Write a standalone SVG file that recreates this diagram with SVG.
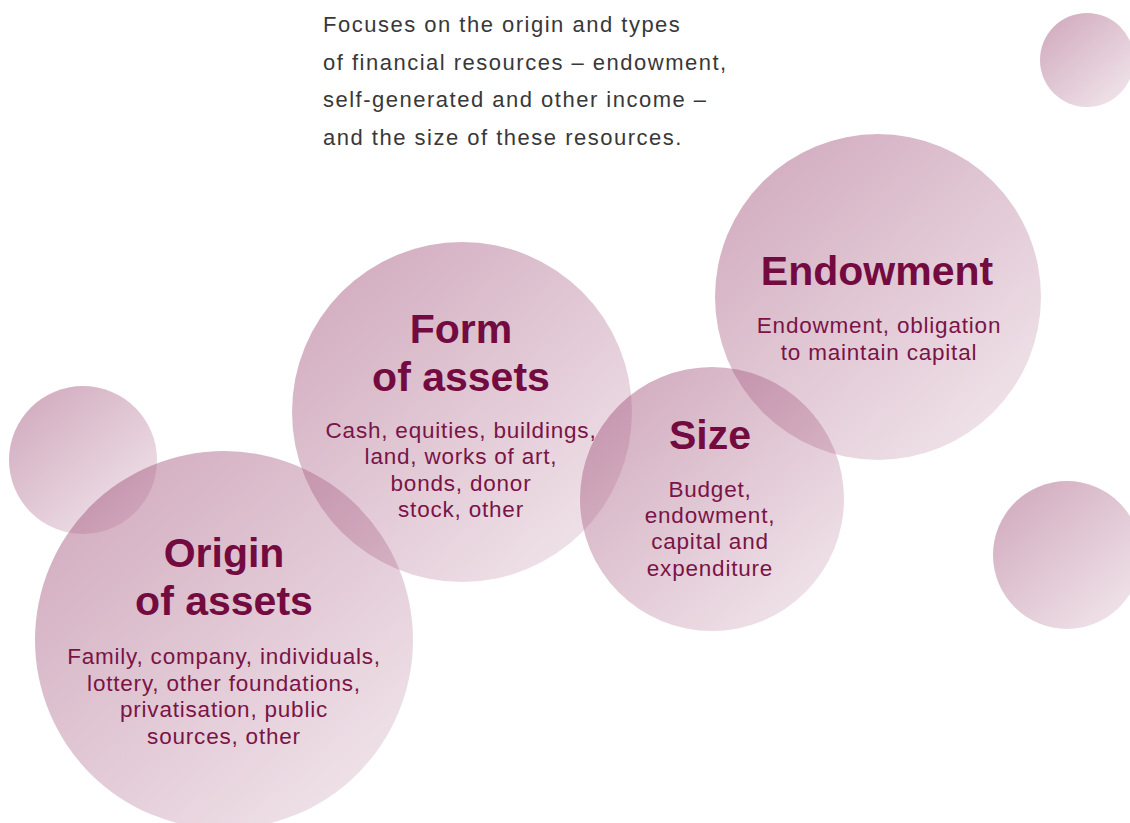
<svg xmlns="http://www.w3.org/2000/svg" width="1130" height="823" viewBox="0 0 1130 823">
<defs>
<linearGradient id="bub" x1="0.15" y1="0.1" x2="0.9" y2="0.95">
<stop offset="0" stop-color="rgb(160,80,120)" stop-opacity="0.46"/>
<stop offset="1" stop-color="rgb(160,80,120)" stop-opacity="0.15"/>
</linearGradient>
<style>
.b{fill:url(#bub)}
.t{font-family:"Liberation Sans",Arial,sans-serif;font-weight:bold;font-size:41px;fill:#730b40;text-anchor:middle}
.d{font-family:"Liberation Sans",Arial,sans-serif;font-size:22.5px;fill:#7a1446;text-anchor:middle;letter-spacing:0.8px}
.i{font-family:"Liberation Sans",Arial,sans-serif;font-size:22px;fill:#383838;letter-spacing:1.5px}
</style>
</defs>
<rect width="1130" height="823" fill="#ffffff"/>
<g id="intro">
<text class="i" x="323" y="32">Focuses on the origin and types</text>
<text class="i" x="323" y="70">of financial resources – endowment,</text>
<text class="i" x="323" y="107">self-generated and other income –</text>
<text class="i" x="323" y="145">and the size of these resources.</text>
</g>
<g id="decor">
<circle class="b" cx="1087" cy="60" r="47"/>
<circle class="b" cx="83" cy="460" r="74"/>
<circle class="b" cx="1067" cy="555" r="74"/>
</g>
<g id="connectors"></g>
<g id="origin">
<circle class="b" cx="224" cy="640" r="189"/>
<text class="t" x="224" y="567">Origin</text>
<text class="t" x="224" y="615">of assets</text>
<text class="d" x="224" y="664">Family, company, individuals,</text>
<text class="d" x="224" y="691">lottery, other foundations,</text>
<text class="d" x="224" y="717">privatisation, public</text>
<text class="d" x="224" y="744">sources, other</text>
</g>
<g id="size">
<circle class="b" cx="712" cy="499" r="132"/>
<text class="t" x="710" y="449">Size</text>
<text class="d" x="710" y="497">Budget,</text>
<text class="d" x="710" y="523">endowment,</text>
<text class="d" x="710" y="549">capital and</text>
<text class="d" x="710" y="576">expenditure</text>
</g>
<g id="form">
<circle class="b" cx="462" cy="412" r="170"/>
<text class="t" x="461" y="343">Form</text>
<text class="t" x="461" y="391">of assets</text>
<text class="d" x="461" y="438">Cash, equities, buildings,</text>
<text class="d" x="461" y="464">land, works of art,</text>
<text class="d" x="461" y="491">bonds, donor</text>
<text class="d" x="461" y="517">stock, other</text>
</g>
<g id="endowment">
<circle class="b" cx="878" cy="297" r="163"/>
<text class="t" x="877" y="285">Endowment</text>
<text class="d" x="879" y="333">Endowment, obligation</text>
<text class="d" x="879" y="360">to maintain capital</text>
</g>
</svg>
